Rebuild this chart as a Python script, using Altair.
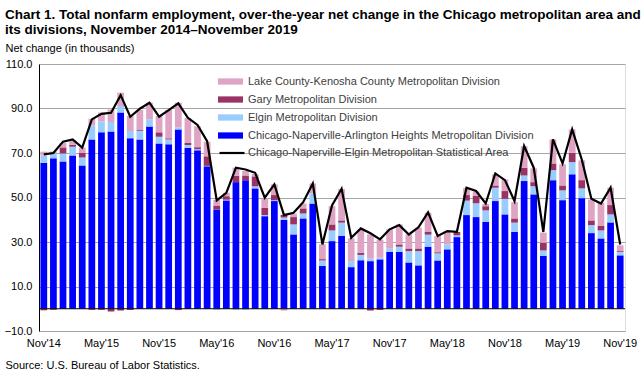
import altair as alt
import pandas as pd

MONTHS = [d.strftime("%b'%y") for d in pd.date_range("2014-11-01", "2019-11-01", freq="MS")]
TICK_LABELS = ["Nov'14", "May'15", "Nov'15", "May'16", "Nov'16", "May'17",
               "Nov'17", "May'18", "Nov'18", "May'19", "Nov'19"]
Y_TICKS = [-10, 10, 30, 50, 70, 90, 110]

SERIES = ["Lake County-Kenosha County Metropolitan Division",
          "Gary Metropolitan Division",
          "Elgin Metropolitan Division",
          "Chicago-Naperville-Arlington Heights Metropolitan Division"]
COLORS = ["#dfa3c4", "#993366", "#99ccff", "#0000ff"]
MSA_NAME = "Chicago-Naperville-Elgin Metropolitan Statistical Area"

chicago = [65.5, 67.6, 66.2, 68.9, 64.4, 76.1, 79.3, 79.7, 88.2, 76.6,
           76.1, 81.9, 74.3, 73.9, 80.6, 72.4, 71.2, 64.0, 44.6, 48.7,
           56.9, 57.7, 54.1, 41.6, 48.4, 39.9, 33.4, 40.6, 47.3, 19.2,
           30.4, 32.7, 18.7, 21.8, 21.4, 22.2, 25.5, 25.5, 20.8, 19.5,
           27.9, 21.7, 26.7, 32.2, 42.1, 41.2, 39.0, 48.4, 42.4, 34.5,
           57.4, 51.4, 23.7, 57.8, 48.8, 60.4, 49.7, 34.0, 31.6, 38.8,
           24.0]
elgin = [3.4, 2.1, 3.6, 3.9, 3.6, 6.3, 4.9, 4.2, 2.9, 3.3,
         3.9, 3.2, 3.0, 2.2, 0.9, 1.2, 0.5, 0.2, -0.5, 0.3,
         -0.5, -0.5, 0.9, 0.5, 0.4, 1.1, 4.5, 2.2, 4.5, 2.5,
         4.8, 6.0, 2.7, 2.4, 1.1, 0.8, 1.5, 2.4, 5.1, 6.4,
         5.4, 3.2, 2.2, 0.8, 6.5, 6.2, 5.2, 6.0, 7.0, 4.2,
         2.5, 3.7, 2.5, 4.5, 4.4, 5.5, 4.4, 3.6, 3.6, 3.6,
         1.5]
gary = [-0.7, -0.5, 2.7, 0.9, 2.0, -0.5, -0.5, -1.2, -0.8, -0.6,
        0.3, 0.0, 2.0, 0.5, -0.6, 0.9, 0.9, 4.3, 1.8, 1.6,
        2.9, 2.2, 4.5, 3.3, 2.3, 1.2, 3.3, 2.3, 0.0, 0.6,
        2.7, 1.0, 0.0, 1.0, -0.8, -0.5, 0.0, 1.0, 1.2, 1.2,
        1.4, 0.5, 0.0, 1.5, 2.5, 3.3, 1.9, 1.0, 3.5, 1.9,
        3.5, 1.8, 3.5, 3.0, 2.2, 4.2, 3.7, 2.1, 2.0, 4.2,
        0.4]
lake = [1.7, 1.0, 2.0, 2.1, 2.4, 3.0, 4.0, 5.7, 6.0, 6.7,
        9.0, 7.5, 7.3, 12.7, 11.1, 11.2, 9.4, 6.5, 2.6, 1.5,
        3.6, 2.0, 1.1, 4.0, 4.8, -0.8, 1.5, 2.2, 4.5, 6.7,
        8.2, 14.1, 10.2, 10.2, 10.9, 8.0, 8.7, 9.0, 6.3, 9.3,
        8.4, 7.2, 6.0, 0.0, 3.2, 2.0, 1.0, 5.0, 5.2, 7.3,
        9.7, 6.2, 4.5, 10.8, 9.5, 10.5, 8.9, 9.4, 10.4, 7.8,
        2.6]
msa = [69.4, 70.0, 75.1, 76.1, 72.4, 85.1, 87.6, 88.1, 96.0, 86.3,
       89.9, 92.6, 86.3, 89.3, 92.3, 85.8, 82.6, 75.3, 48.7, 52.1,
       63.4, 62.6, 61.1, 49.9, 55.9, 42.1, 43.1, 47.9, 56.3, 28.9,
       46.4, 53.9, 31.9, 36.1, 33.9, 31.2, 35.7, 37.6, 33.4, 36.6,
       43.3, 32.7, 34.9, 34.6, 54.4, 52.9, 47.3, 60.8, 57.8, 48.4,
       73.1, 63.4, 34.5, 76.1, 65.3, 80.6, 67.1, 49.4, 47.3, 54.4,
       28.9]

rows = []
stack_series = [(SERIES[3], chicago), (SERIES[2], elgin), (SERIES[1], gary), (SERIES[0], lake)]
for i, m in enumerate(MONTHS):
    for order, (name, vals) in enumerate(stack_series):
        rows.append({"month": m, "series": name, "value": vals[i], "order": order})
bars_df = pd.DataFrame(rows)
line_df = pd.DataFrame({"month": MONTHS, "value": msa, "series": [MSA_NAME] * len(MONTHS)})
zero_df = pd.DataFrame({"value": [0]})

FONT = "Liberation Sans"

x_enc = alt.X(
    "month:N", sort=MONTHS,
    scale=alt.Scale(paddingInner=0.3, paddingOuter=0.15),
    axis=alt.Axis(values=TICK_LABELS, labelAngle=0, ticks=False, domain=False,
                  labelPadding=6, labelFontSize=11, labelColor="black", labelFont=FONT,
                  title="Source: U.S. Bureau of Labor Statistics.",
                  titleX=-34, titleY=34, titleAlign="left", titleBaseline="middle",
                  titleFontWeight="normal", titleFontSize=11, titleFont=FONT, titleColor="black"),
)
y_axis = alt.Axis(values=Y_TICKS, format=".1f", ticks=False, labelPadding=7,
                  labelFontSize=11, labelColor="black", labelFont=FONT,
                  domainColor="black", grid=True, gridColor="#a6a6a6",
                  title="Net change (in thousands)", titleAngle=0, titleAlign="left",
                  titleBaseline="middle", titleX=-34, titleY=-16,
                  titleFontWeight="normal", titleFontSize=11, titleFont=FONT, titleColor="black")
y_scale = alt.Scale(domain=[-10, 110], nice=False, zero=False)

bars = alt.Chart(bars_df).mark_bar().encode(
    x=x_enc,
    y=alt.Y("value:Q", stack="zero", scale=y_scale, axis=y_axis),
    color=alt.Color("series:N", scale=alt.Scale(domain=SERIES, range=COLORS),
                    legend=alt.Legend(title=None, orient="none", legendX=179, legendY=5,
                                      symbolType="M-1,-0.25H1V0.25H-1Z", symbolSize=625,
                                      symbolStrokeWidth=0, rowPadding=-8, labelOffset=5,
                                      labelFontSize=11, labelFont=FONT, labelColor="#404040",
                                      labelLimit=0, padding=0)),
    order=alt.Order("order:Q"),
)

zero_rule = alt.Chart(zero_df).mark_rule(color="black", strokeWidth=1).encode(
    y=alt.Y("value:Q", scale=y_scale, axis=y_axis)
)

line = alt.Chart(line_df).mark_line(strokeWidth=2.2).encode(
    x=x_enc,
    y=alt.Y("value:Q", stack=None, scale=y_scale, axis=y_axis),
    stroke=alt.Stroke("series:N", scale=alt.Scale(domain=[MSA_NAME], range=["black"]),
                      legend=alt.Legend(title=None, orient="none", legendX=179, legendY=75,
                                        symbolType="stroke", symbolSize=625, symbolStrokeWidth=2.2,
                                        labelOffset=2, labelFontSize=11, labelFont=FONT,
                                        labelColor="#404040", labelLimit=0, padding=0)),
)

chart = alt.layer(bars, zero_rule, line).properties(
    width=586, height=267,
    autosize=alt.AutoSizeParams(type="none"),
    padding={"left": 39, "top": 64, "right": 18, "bottom": 44},
    title=alt.Title(
        text=["Chart 1. Total nonfarm employment, over-the-year net change in the Chicago metropolitan area and",
              "its divisions, November 2014\u2013November 2019"],
        anchor="start", frame="group", dx=-34, fontSize=13.5, fontWeight="bold",
        font=FONT, color="black", lineHeight=15, offset=6),
).configure_view(stroke="#a6a6a6").configure(background="white")

chart.save("out.html", embed_options={"renderer": "svg", "actions": False})
